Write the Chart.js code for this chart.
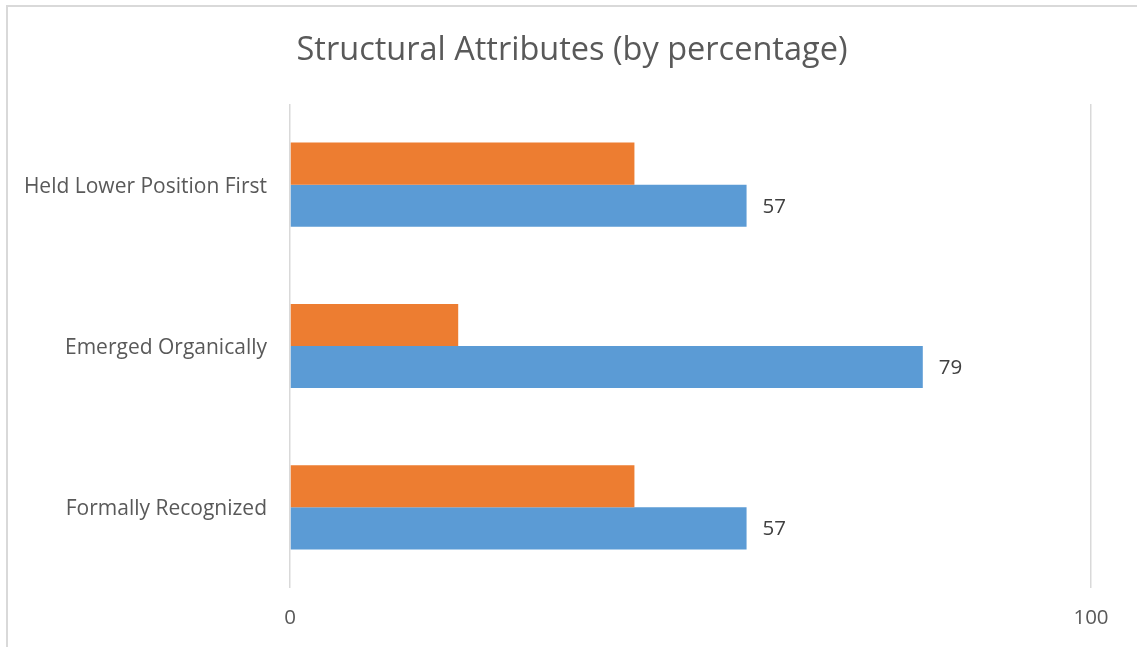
<!DOCTYPE html>
<html>
<head>
<meta charset="utf-8">
<script src="https://cdn.jsdelivr.net/npm/chart.js@4/dist/chart.umd.min.js"></script>
<style>
  html, body { margin: 0; padding: 0; background: #fff; overflow: hidden; }
  #frame {
    position: absolute; left: 6px; top: 5px;
    width: 1200px; height: 700px;
    border-left: 2px solid #d9d9d9; border-top: 2px solid #d9d9d9;
  }
  #wrap { position: absolute; left: 0; top: 0; width: 1137px; height: 647px; }
</style>
</head>
<body>
<div id="frame"></div>
<div id="wrap"><canvas id="chart" width="1137" height="647"></canvas></div>
<script>
// chart data
const categories = ["Held Lower Position First", "Emerged Organically", "Formally Recognized"];
const orangeValues = [43, 21, 43];
const blueValues = [57, 79, 57];
const xTicks = [0, 100];
const titleText = "Structural Attributes (by percentage)";

const FONT = "'Open Sans', sans-serif";

// value labels at the end of the blue bars, plus the title centred on the whole canvas
const extras = {
    id: 'extras',
    afterDatasetsDraw(chart) {
        const ctx = chart.ctx;
        const meta = chart.getDatasetMeta(1);
        ctx.save();
        ctx.font = "20.5px " + FONT;
        ctx.fillStyle = "#404040";
        ctx.textAlign = "left";
        ctx.textBaseline = "middle";
        meta.data.forEach((bar, i) => {
            ctx.fillText(blueValues[i], bar.x + 16, bar.y + 1);
        });

        ctx.font = "32.5px " + FONT;
        ctx.fillStyle = "#595959";
        ctx.textAlign = "center";
        ctx.fillText(titleText, 572, 51);
        ctx.restore();
    }
};

new Chart(document.getElementById('chart'), {
    type: 'bar',
    data: {
        labels: categories,
        datasets: [
            { data: orangeValues, backgroundColor: "#ED7D31" },
            { data: blueValues, backgroundColor: "#5B9BD5" }
        ]
    },
    options: {
        indexAxis: 'y',
        responsive: false,
        animation: false,
        datasets: { bar: { categoryPercentage: 0.522, barPercentage: 1 } },
        layout: { padding: { left: 0, right: 46, top: 104, bottom: 0 } },
        plugins: {
            legend: { display: false },
            tooltip: { enabled: false },
            title: { display: false }
        },
        scales: {
            x: {
                min: 0, max: 100,
                afterBuildTicks: scale => { scale.ticks = xTicks.map(v => ({ value: v })); },
                afterFit: scale => { scale.height = 59; },
                grid: { color: "#d9d9d9", lineWidth: 1.5, drawTicks: false },
                border: { display: false },
                ticks: { color: "#595959", padding: 18, font: { family: FONT, size: 20.5 } }
            },
            y: {
                afterFit: scale => { scale.width = 290; },
                grid: { display: false, drawTicks: false },
                border: { display: false },
                ticks: { color: "#595959", padding: 23, labelOffset: 2, font: { family: FONT, size: 21 } }
            }
        }
    },
    plugins: [extras]
});
</script>
</body>
</html>
